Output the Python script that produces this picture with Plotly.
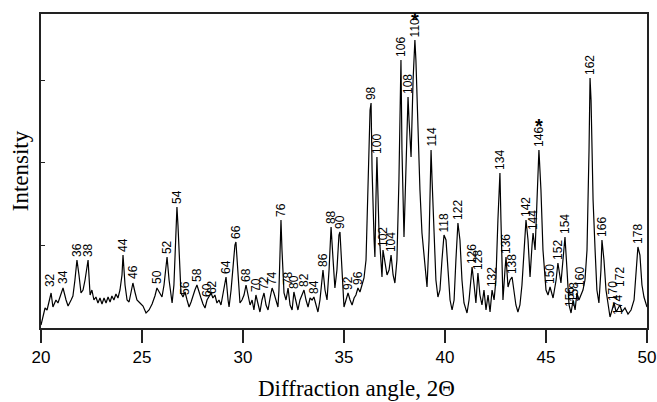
import plotly.graph_objects as go

# Diffraction profile (2-theta in degrees, intensity in arbitrary units)
two_theta = [
    20.00, 20.10, 20.20, 20.30, 20.40, 20.50, 20.59, 20.74, 20.84, 20.99,
    21.09, 21.24, 21.34, 21.49, 21.58, 21.68, 21.78, 21.88, 21.98, 22.08,
    22.18, 22.33, 22.43, 22.52, 22.62, 22.72, 22.82, 22.92, 23.02, 23.12,
    23.22, 23.32, 23.42, 23.51, 23.61, 23.71, 23.81, 23.91, 24.01, 24.06,
    24.16, 24.26, 24.36, 24.46, 24.55, 24.65, 24.75, 24.90, 25.05, 25.20,
    25.35, 25.50, 25.64, 25.74, 25.84, 25.99, 26.09, 26.19, 26.24, 26.34,
    26.44, 26.49, 26.58, 26.68, 26.73, 26.78, 26.88, 26.93, 27.03, 27.13,
    27.23, 27.33, 27.43, 27.52, 27.62, 27.72, 27.82, 27.92, 28.02, 28.12,
    28.22, 28.32, 28.42, 28.51, 28.61, 28.71, 28.81, 28.91, 29.01, 29.11,
    29.16, 29.26, 29.31, 29.41, 29.50, 29.60, 29.65, 29.75, 29.85, 29.95,
    30.05, 30.15, 30.25, 30.35, 30.45, 30.54, 30.64, 30.74, 30.84, 30.94,
    31.04, 31.14, 31.24, 31.34, 31.44, 31.53, 31.63, 31.73, 31.78, 31.83,
    31.88, 31.93, 32.03, 32.13, 32.23, 32.33, 32.43, 32.52, 32.62, 32.72,
    32.82, 32.92, 33.02, 33.12, 33.22, 33.32, 33.42, 33.51, 33.61, 33.71,
    33.81, 33.91, 33.96, 34.06, 34.16, 34.26, 34.36, 34.46, 34.55, 34.65,
    34.75, 34.80, 34.90, 35.00, 35.10, 35.20, 35.30, 35.40, 35.50, 35.59,
    35.69, 35.79, 35.89, 35.99, 36.09, 36.19, 36.29, 36.34, 36.39, 36.49,
    36.53, 36.58, 36.63, 36.73, 36.83, 36.88, 36.93, 37.03, 37.13, 37.23,
    37.33, 37.43, 37.52, 37.62, 37.72, 37.82, 37.87, 37.97, 38.07, 38.17,
    38.22, 38.32, 38.42, 38.51, 38.56, 38.66, 38.76, 38.86, 39.01, 39.11,
    39.21, 39.31, 39.36, 39.46, 39.55, 39.65, 39.75, 39.85, 39.95, 40.05,
    40.15, 40.25, 40.35, 40.45, 40.54, 40.64, 40.74, 40.84, 40.94, 41.09,
    41.19, 41.29, 41.34, 41.44, 41.53, 41.63, 41.73, 41.83, 41.93, 42.03,
    42.13, 42.23, 42.33, 42.43, 42.52, 42.62, 42.72, 42.77, 42.87, 42.97,
    43.02, 43.12, 43.22, 43.32, 43.42, 43.51, 43.61, 43.71, 43.81, 43.91,
    44.01, 44.11, 44.21, 44.31, 44.36, 44.46, 44.55, 44.65, 44.75, 44.85,
    45.00, 45.10, 45.20, 45.35, 45.50, 45.59, 45.74, 45.84, 45.94, 46.04,
    46.14, 46.24, 46.34, 46.44, 46.53, 46.63, 46.73, 46.83, 46.93, 47.03,
    47.13, 47.18, 47.23, 47.33, 47.43, 47.52, 47.62, 47.72, 47.77, 47.87,
    47.97, 48.07, 48.17, 48.27, 48.37, 48.47, 48.56, 48.66, 48.76, 48.91,
    49.06, 49.21, 49.36, 49.46, 49.55, 49.65, 49.75, 49.85, 49.95, 50.00,
]
intensity = [
    3, 13, 20, 18, 28, 35, 21, 28, 25, 34,
    40, 28, 22, 28, 32, 48, 68, 53, 35, 38,
    48, 68, 33, 38, 28, 31, 25, 30, 24, 30,
    25, 31, 26, 32, 28, 34, 30, 38, 53, 73,
    43, 28, 26, 36, 45, 36, 28, 25, 22, 15,
    18, 24, 32, 40, 36, 31, 43, 63, 71, 48,
    28, 25, 43, 88, 121, 103, 53, 35, 31, 36,
    28, 21, 26, 33, 38, 43, 35, 30, 24, 20,
    28, 32, 35, 30, 33, 25, 28, 23, 33, 43,
    51, 28, 21, 38, 63, 83, 86, 58, 25, 28,
    33, 43, 33, 23, 28, 18, 33, 25, 16, 28,
    35, 23, 18, 30, 40, 35, 28, 21, 38, 88,
    108, 78, 35, 28, 40, 23, 18, 36, 25, 18,
    28, 33, 38, 28, 21, 30, 28, 31, 22, 16,
    28, 48, 58, 38, 28, 58, 101, 68, 40, 58,
    93, 96, 53, 21, 28, 35, 28, 23, 30, 33,
    40, 36, 43, 50, 68, 138, 218, 225, 158, 88,
    71, 128, 171, 98, 58, 51, 78, 66, 53, 58,
    73, 53, 45, 68, 148, 268, 178, 91, 158, 231,
    208, 171, 248, 288, 268, 201, 138, 95, 58, 41,
    88, 178, 148, 88, 48, 31, 38, 68, 93, 88,
    58, 28, 18, 28, 68, 105, 88, 48, 25, 15,
    28, 48, 61, 43, 25, 55, 33, 23, 38, 18,
    33, 16, 38, 28, 48, 108, 155, 108, 28, 58,
    71, 41, 48, 51, 33, 23, 16, 23, 43, 78,
    108, 88, 51, 83, 95, 78, 128, 178, 138, 78,
    38, 33, 41, 30, 48, 65, 45, 68, 91, 58,
    23, 15, 28, 18, 35, 28, 33, 38, 48, 78,
    178, 250, 228, 128, 78, 38, 25, 58, 88, 68,
    38, 23, 11, 18, 25, 16, 20, 23, 16, 20,
    14, 18, 28, 58, 81, 73, 43, 31, 23, 21,
]

# Peak labels: text, position (2-theta) and the intensity where each label starts
peak_labels = [
    "32", "34", "36", "38", "44", "46", "50", "52", "54", "56",
    "58", "60", "62", "64", "66", "68", "70", "72", "74", "76",
    "78", "80", "82", "84", "86", "88", "90", "92", "96", "98",
    "100", "102", "104", "106", "108", "110", "114", "118", "122", "126",
    "128", "132", "134", "136", "138", "142", "144", "146", "150", "152",
    "154", "156", "158", "160", "162", "166", "170", "172", "174", "178",
]
peak_pos = [
    20.45, 21.09, 21.78, 22.33, 24.06, 24.55, 25.74, 26.24, 26.73, 27.13,
    27.72, 28.22, 28.47, 29.16, 29.65, 30.15, 30.64, 31.04, 31.44, 31.88,
    32.23, 32.52, 33.02, 33.51, 33.96, 34.36, 34.80, 35.20, 35.69, 36.34,
    36.63, 36.93, 37.33, 37.82, 38.17, 38.51, 39.31, 39.95, 40.64, 41.34,
    41.63, 42.33, 42.72, 43.02, 43.32, 44.01, 44.36, 44.65, 45.20, 45.59,
    45.94, 46.19, 46.39, 46.68, 47.18, 47.77, 48.32, 48.66, 48.56, 49.55,
]
peak_base = [
    40, 43, 70, 70, 75, 48, 43, 73, 123, 32,
    45, 30, 33, 53, 88, 45, 35, 37, 42, 110,
    42, 38, 40, 33, 60, 103, 98, 37, 42, 227,
    173, 80, 75, 270, 233, 290, 180, 95, 107, 63,
    57, 40, 157, 73, 53, 110, 97, 180, 43, 67,
    93, 20, 25, 40, 252, 90, 26, 40, 12, 83,
]
# Reflections marked with an asterisk
star_pos = [38.51, 44.65]
star_level = [308, 202]

x_ticks = [20, 25, 30, 35, 40, 45, 50]
y_ticks = [83, 166, 248]

fig = go.Figure()
fig.add_trace(go.Scatter(x=two_theta, y=intensity, mode="lines",
                         line=dict(color="black", width=1.2),
                         hoverinfo="skip", showlegend=False))

label_font = dict(family="Liberation Sans, Arial, sans-serif", size=12, color="black")
for t, xp, yb in zip(peak_labels, peak_pos, peak_base):
    fig.add_annotation(x=xp, y=yb, text=t, textangle=-90, showarrow=False,
                       xanchor="center", yanchor="bottom", font=label_font,
                       borderpad=0)
for xp, yl in zip(star_pos, star_level):
    fig.add_annotation(x=xp, y=yl, text="<b>*</b>", showarrow=False,
                       xanchor="center", yanchor="middle",
                       font=dict(family="Liberation Sans, Arial, sans-serif", size=20, color="black"))

# x-axis title (placed as paper annotation, slightly right of centre as in the source)
fig.add_annotation(x=0.52, y=0, xref="paper", yref="paper", yshift=-46,
                   text="Diffraction angle, 2\u0398", showarrow=False,
                   xanchor="center", yanchor="top",
                   font=dict(family="Liberation Serif, Times New Roman, serif", size=23, color="black"))

fig.update_layout(
    width=657, height=402,
    margin=dict(l=41, r=10, t=14, b=74),
    paper_bgcolor="white", plot_bgcolor="white",
    showlegend=False,
    xaxis=dict(range=[20, 50], tickvals=x_ticks, ticks="outside", ticklen=13,
               tickwidth=1.5, tickcolor="#222", showline=True, linecolor="#222",
               linewidth=1.5, mirror=True, showgrid=False, zeroline=False,
               automargin=False,
               tickfont=dict(family="Liberation Sans, Arial, sans-serif",
                             size=17, color="black")),
    yaxis=dict(range=[0, 314], tickvals=y_ticks, ticks="inside", ticklen=4,
               tickcolor="#222", showticklabels=False, showline=True,
               linecolor="#222", linewidth=1.5, mirror=True, showgrid=False,
               zeroline=False, automargin=False,
               title=dict(text="Intensity", standoff=4,
                          font=dict(family="Liberation Serif, Times New Roman, serif",
                                    size=23, color="black"))),
)

fig.write_html("out.html")
